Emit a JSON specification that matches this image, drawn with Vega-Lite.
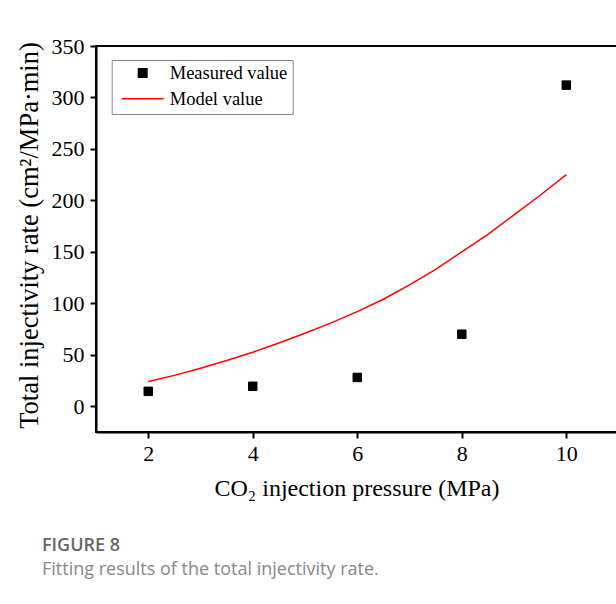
{
  "$schema": "https://vega.github.io/schema/vega-lite/v6.json",
  "autosize": "none",
  "padding": {"left": 96, "top": 46, "right": 0, "bottom": 172},
  "width": 521,
  "height": 386,
  "background": "white",
  "config": {
    "view": {"stroke": "black", "strokeWidth": 2},
    "font": "Liberation Serif",
    "axis": {
      "grid": false,
      "domainColor": "black",
      "domainWidth": 2,
      "tickColor": "black",
      "tickWidth": 2,
      "tickSize": 6,
      "labelFont": "Liberation Serif",
      "labelFontSize": 22,
      "labelColor": "black",
      "titleFont": "Liberation Serif",
      "titleFontSize": 24,
      "titleFontWeight": "normal",
      "titleColor": "black"
    }
  },
  "title": {
    "text": "FIGURE 8",
    "subtitle": "Fitting results of the total injectivity rate.",
    "orient": "bottom",
    "anchor": "start",
    "frame": "group",
    "dx": -54,
    "offset": 37,
    "font": "Open Sans",
    "fontSize": 18,
    "fontWeight": 600,
    "color": "#666666",
    "subtitleFont": "Open Sans",
    "subtitleFontSize": 18,
    "subtitleColor": "#888888",
    "subtitlePadding": 6
  },
  "datasets": {
    "measured": [
      {"pressure": 2, "rate": 14.5, "series": "Measured value"},
      {"pressure": 4, "rate": 19.4, "series": "Measured value"},
      {"pressure": 6, "rate": 28, "series": "Measured value"},
      {"pressure": 8, "rate": 70, "series": "Measured value"},
      {"pressure": 10, "rate": 312, "series": "Measured value"}
    ],
    "model": [
      {"pressure": 2, "rate": 24, "series": "Model value"},
      {"pressure": 2.5, "rate": 30, "series": "Model value"},
      {"pressure": 3, "rate": 37, "series": "Model value"},
      {"pressure": 3.5, "rate": 44.5, "series": "Model value"},
      {"pressure": 4, "rate": 52.5, "series": "Model value"},
      {"pressure": 4.5, "rate": 61.5, "series": "Model value"},
      {"pressure": 5, "rate": 71, "series": "Model value"},
      {"pressure": 5.5, "rate": 81, "series": "Model value"},
      {"pressure": 6, "rate": 92, "series": "Model value"},
      {"pressure": 6.5, "rate": 104, "series": "Model value"},
      {"pressure": 7, "rate": 118, "series": "Model value"},
      {"pressure": 7.5, "rate": 133, "series": "Model value"},
      {"pressure": 8, "rate": 150, "series": "Model value"},
      {"pressure": 8.5, "rate": 167, "series": "Model value"},
      {"pressure": 9, "rate": 186, "series": "Model value"},
      {"pressure": 9.5, "rate": 205, "series": "Model value"},
      {"pressure": 10, "rate": 225, "series": "Model value"}
    ]
  },
  "encoding": {
    "x": {
      "field": "pressure",
      "type": "quantitative",
      "scale": {"domain": [1, 10.97], "nice": false, "zero": false},
      "axis": {"values": [2, 4, 6, 8, 10], "title": "CO₂ injection pressure (MPa)", "labelPadding": 5, "titlePadding": 12}
    },
    "y": {
      "field": "rate",
      "type": "quantitative",
      "scale": {"domain": [-25, 350], "nice": false, "zero": false},
      "axis": {"values": [0, 50, 100, 150, 200, 250, 300, 350], "title": "Total injectivity rate (cm²/MPa·min)", "titleFontSize": 26.5, "titleY": 189, "labelPadding": 6, "titlePadding": 8}
    }
  },
  "layer": [
    {
      "data": {"name": "measured"},
      "mark": {"type": "point", "filled": true, "opacity": 1, "strokeWidth": 1},
      "encoding": {
        "color": {
          "field": "series",
          "type": "nominal",
          "scale": {"domain": ["Measured value", "Model value"], "range": ["black", "red"]},
          "legend": {
            "title": null,
            "orient": "none",
            "legendX": 15.7,
            "legendY": 14,
            "strokeColor": "#888888",
            "fillColor": "white",
            "padding": 5,
            "clipHeight": 16,
            "symbolOffset": 4,
            "labelOffset": 5,
            "labelFont": "Liberation Serif",
            "labelFontSize": 18.5,
            "labelColor": "black",
            "rowPadding": 6.7,
            "symbolStrokeWidth": 1.5
          }
        },
        "stroke": {
          "field": "series",
          "type": "nominal",
          "scale": {"domain": ["Measured value", "Model value"], "range": ["black", "red"]}
        },
        "shape": {
          "field": "series",
          "type": "nominal",
          "scale": {"domain": ["Measured value", "Model value"], "range": ["square", "stroke"]}
        },
        "size": {
          "field": "series",
          "type": "nominal",
          "scale": {"domain": ["Measured value", "Model value"], "range": [72, 1764]}
        }
      }
    },
    {
      "data": {"name": "model"},
      "mark": {"type": "line", "strokeWidth": 1.5},
      "encoding": {
        "stroke": {
          "field": "series",
          "type": "nominal",
          "scale": {"domain": ["Measured value", "Model value"], "range": ["black", "red"]}
        }
      }
    }
  ]
}
